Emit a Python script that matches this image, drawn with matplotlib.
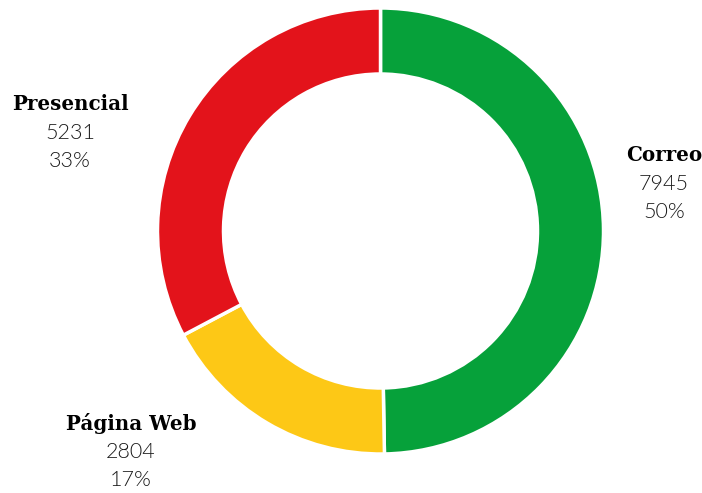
import matplotlib
matplotlib.use("Agg")
import matplotlib.pyplot as plt

categories = ["Correo", "Página Web", "Presencial"]
values = [7945, 2804, 5231]
percent_labels = ["50%", "17%", "33%"]
colors = ["#06A13A", "#FDC816", "#E3131B"]

W, H = 702, 493
fig = plt.figure(figsize=(W / 100, H / 100), dpi=100)
ax = fig.add_axes([0, 0, 1, 1])

outer = 223
inner = 157
cx, cy = 380.5, H - 231
ax.pie(values, colors=colors, startangle=90, counterclock=False,
       radius=outer, center=(cx, cy), frame=True,
       wedgeprops=dict(width=outer - inner, edgecolor="white", linewidth=2.5))
ax.set_xlim(0, W)
ax.set_ylim(0, H)
ax.axis("off")

label_pos = {"Correo": (664, 155), "Página Web": (131, 423), "Presencial": (70, 104)}
for cat, val, pct in zip(categories, values, percent_labels):
    x, y = label_pos[cat]
    ax.text(x, H - y, cat, ha="center", va="center", fontsize=14.3,
            fontweight="bold", family="DejaVu Serif", color="#000000")
    ax.text(x, H - y - 29, str(val), ha="center", va="center", fontsize=15.5,
            fontweight=300, family="Lato", color="#1a1a1a")
    ax.text(x, H - y - 57, pct, ha="center", va="center", fontsize=15.5,
            fontweight=300, family="Lato", color="#1a1a1a")

fig.savefig("out.png", dpi=100)
